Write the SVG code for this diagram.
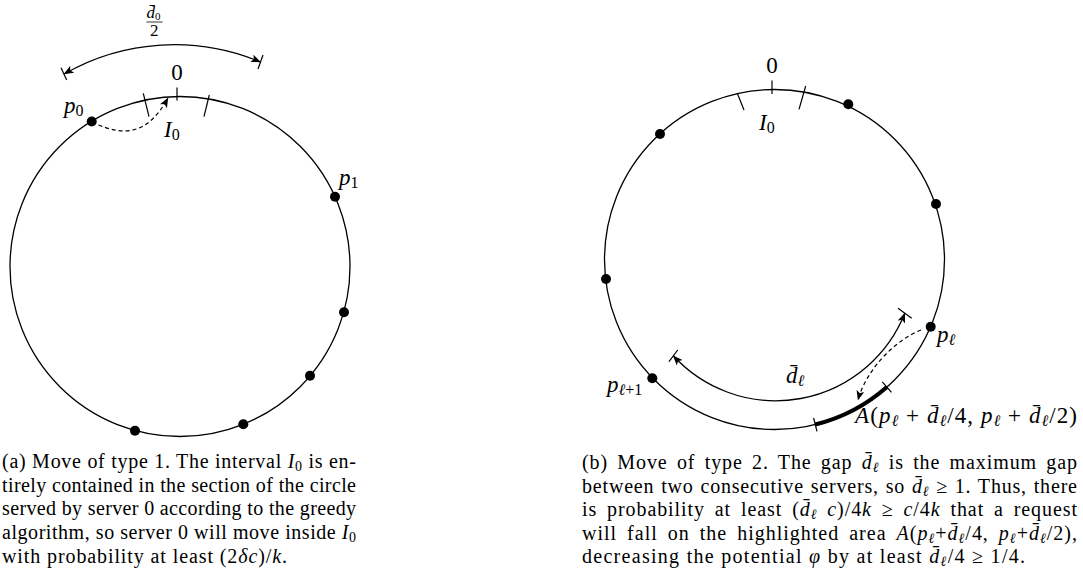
<svg xmlns="http://www.w3.org/2000/svg" width="1083" height="583" viewBox="0 0 1083 583">
<style>
.c{fill:none;stroke:#000;stroke-width:1.3}
.t{stroke:#000;stroke-width:1.2}
.a{fill:none;stroke:#000;stroke-width:1.3}
.d{fill:none;stroke:#000;stroke-width:1.2;stroke-dasharray:4,3}
.dot{fill:#000}
text{font-family:"Liberation Serif","Times New Roman",serif;fill:#000}
.lb{font-size:23px}
.cap{font-size:20px}
.i{font-style:italic}
</style>
<defs>
<marker id="ah" viewBox="0 0 10 8" refX="9.5" refY="4" markerWidth="10" markerHeight="8" markerUnits="userSpaceOnUse" orient="auto-start-reverse">
<path d="M0,0 L10,4 L0,8 L2.5,4 z" fill="#000"/>
</marker>
</defs>

<!-- Figure (a) -->
<g id="circleA">
<circle class="c" cx="180" cy="266.5" r="170"/>
<line class="t" x1="143.3" y1="93.3" x2="149" y2="116.7"/>
<line class="t" x1="209.3" y1="95" x2="204" y2="116.7"/>
<line class="t" x1="177" y1="87.5" x2="177" y2="100.5"/>
</g>
<g id="labelsA">
<text class="lb" x="177" y="80" text-anchor="middle" font-size="22">0</text>
<text class="lb" x="64" y="113"><tspan class="i">p</tspan><tspan font-size="16" dy="3">0</tspan></text>
<text class="lb" x="164" y="137"><tspan class="i">I</tspan><tspan font-size="16" dy="3">0</tspan></text>
<text class="lb" x="339" y="185"><tspan class="i">p</tspan><tspan font-size="16" dy="3">1</tspan></text>
<text font-size="17" x="146.5" y="18.3"><tspan class="i">d&#772;</tspan><tspan font-size="11" dy="2">0</tspan></text>
<line x1="146.5" y1="22" x2="162.5" y2="22" stroke="#000" stroke-width="0.8"/>
<text font-size="17" x="154.3" y="35.5" text-anchor="middle">2</text>
</g>
<g id="serversA">
<circle class="dot" cx="91.7" cy="121.5" r="5"/>
<circle class="dot" cx="335" cy="196.7" r="5"/>
<circle class="dot" cx="344" cy="312.3" r="5"/>
<circle class="dot" cx="310" cy="375.7" r="5"/>
<circle class="dot" cx="243.3" cy="424.3" r="5"/>
<circle class="dot" cx="135" cy="430.7" r="5"/>
</g>
<g id="connectorsA">
<path class="a" d="M64,74 A222,222 0 0 1 260.5,62" marker-start="url(#ah)" marker-end="url(#ah)"/>
<line class="t" x1="61" y1="67.7" x2="66.7" y2="80"/>
<line class="t" x1="258" y1="69" x2="263" y2="55"/>
<path class="d" d="M92,122 C125,138 148,134 168,98" marker-end="url(#ah)"/>
</g>

<!-- Figure (b) -->
<g id="circleB">
<circle class="c" cx="774.5" cy="259.5" r="170"/>
<line class="t" x1="737.3" y1="93.3" x2="744" y2="110"/>
<line class="t" x1="805.7" y1="86" x2="799" y2="109.3"/>
<line class="t" x1="772" y1="80.5" x2="772" y2="94"/>
<path d="M815.3,424.5 A170,170 0 0 0 886.9,387" fill="none" stroke="#000" stroke-width="4.2"/>
<line class="t" x1="813.6" y1="417.8" x2="817" y2="431.4"/>
<line class="t" x1="882.3" y1="381.8" x2="891.5" y2="392.3"/>
</g>
<g id="labelsB">
<text class="lb" x="772" y="73.3" text-anchor="middle" font-size="22">0</text>
<text class="lb" x="759" y="129.5"><tspan class="i">I</tspan><tspan font-size="16" dy="3">0</tspan></text>
<text class="lb" x="937" y="342"><tspan class="i">p</tspan><tspan font-size="16" dy="3" class="i">ℓ</tspan></text>
<text class="lb" x="607" y="392"><tspan class="i">p</tspan><tspan font-size="16" dy="3"><tspan class="i">ℓ</tspan>+1</tspan></text>
<text class="lb" x="786" y="383"><tspan class="i">d&#772;</tspan><tspan font-size="16" dy="3" class="i">ℓ</tspan></text>
<text class="lb" x="855" y="423" textLength="222" lengthAdjust="spacing"><tspan class="i">A</tspan>(<tspan class="i">p</tspan><tspan font-size="16" dy="3" class="i">ℓ</tspan><tspan dy="-3"> + </tspan><tspan class="i">d&#772;</tspan><tspan font-size="16" dy="3" class="i">ℓ</tspan><tspan dy="-3">/4, </tspan><tspan class="i">p</tspan><tspan font-size="16" dy="3" class="i">ℓ</tspan><tspan dy="-3"> + </tspan><tspan class="i">d&#772;</tspan><tspan font-size="16" dy="3" class="i">ℓ</tspan><tspan dy="-3">/2)</tspan></text>
</g>
<g id="serversB">
<circle class="dot" cx="660" cy="134" r="5"/>
<circle class="dot" cx="848.3" cy="104.3" r="5"/>
<circle class="dot" cx="936" cy="204" r="5"/>
<circle class="dot" cx="606" cy="279" r="5"/>
<circle class="dot" cx="930.7" cy="326.7" r="5"/>
<circle class="dot" cx="652.3" cy="378.3" r="5"/>
</g>
<g id="connectorsB">
<path class="a" d="M673.3,355.8 A139,139 0 0 0 904.8,313.3" marker-start="url(#ah)" marker-end="url(#ah)"/>
<line class="t" x1="669" y1="361.7" x2="677.7" y2="350"/>
<line class="t" x1="898" y1="308.3" x2="911.7" y2="318.3"/>
<path class="d" d="M921,330 C895,340 866,370 858,400" marker-end="url(#ah)"/>
</g>

<!-- Captions -->
<g id="captionA">
<text class="cap" x="2" y="467.5" textLength="354" lengthAdjust="spacing">(a) Move of type 1. The interval <tspan class="i">I</tspan><tspan font-size="14" dy="3">0</tspan><tspan dy="-3"> is en-</tspan></text>
<text class="cap" x="2" y="491.5" textLength="354" lengthAdjust="spacing">tirely contained in the section of the circle</text>
<text class="cap" x="2" y="515.3" textLength="354" lengthAdjust="spacing">served by server 0 according to the greedy</text>
<text class="cap" x="2" y="539" textLength="354" lengthAdjust="spacing">algorithm, so server 0 will move inside <tspan class="i">I</tspan><tspan font-size="14" dy="3">0</tspan></text>
<text class="cap" x="2" y="562.7" textLength="285" lengthAdjust="spacing">with probability at least (2<tspan class="i">δc</tspan>)/<tspan class="i">k</tspan>.</text>
</g>
<g id="captionB">
<text class="cap" x="582" y="469" textLength="495" lengthAdjust="spacing" word-spacing="3.4">(b) Move of type 2.  The gap <tspan class="i">d&#772;</tspan><tspan font-size="14" dy="3" class="i">ℓ</tspan><tspan dy="-3"> is the maximum gap</tspan></text>
<text class="cap" x="582" y="492.7" textLength="495" lengthAdjust="spacing" word-spacing="1">between two consecutive servers, so <tspan class="i">d&#772;</tspan><tspan font-size="14" dy="3" class="i">ℓ</tspan><tspan dy="-3"> ≥ 1. Thus, there</tspan></text>
<text class="cap" x="582" y="516.3" textLength="495" lengthAdjust="spacing" word-spacing="4">is probability at least (<tspan class="i">d&#772;</tspan><tspan font-size="14" dy="3" class="i">ℓ</tspan><tspan dy="-3"> </tspan><tspan class="i">c</tspan>)/4<tspan class="i">k</tspan> ≥ <tspan class="i">c</tspan>/4<tspan class="i">k</tspan> that a request</text>
<text class="cap" x="582" y="540" textLength="495" lengthAdjust="spacing" word-spacing="4">will fall on the highlighted area <tspan class="i">A</tspan>(<tspan class="i">p</tspan><tspan font-size="14" dy="3" class="i">ℓ</tspan><tspan dy="-3">+</tspan><tspan class="i">d&#772;</tspan><tspan font-size="14" dy="3" class="i">ℓ</tspan><tspan dy="-3">/4, </tspan><tspan class="i">p</tspan><tspan font-size="14" dy="3" class="i">ℓ</tspan><tspan dy="-3">+</tspan><tspan class="i">d&#772;</tspan><tspan font-size="14" dy="3" class="i">ℓ</tspan><tspan dy="-3">/2),</tspan></text>
<text class="cap" x="582" y="562.7" textLength="443" lengthAdjust="spacing">decreasing the potential <tspan class="i">φ</tspan> by at least <tspan class="i">d&#772;</tspan><tspan font-size="14" dy="3" class="i">ℓ</tspan><tspan dy="-3">/4 ≥ 1/4.</tspan></text>
</g>
</svg>
